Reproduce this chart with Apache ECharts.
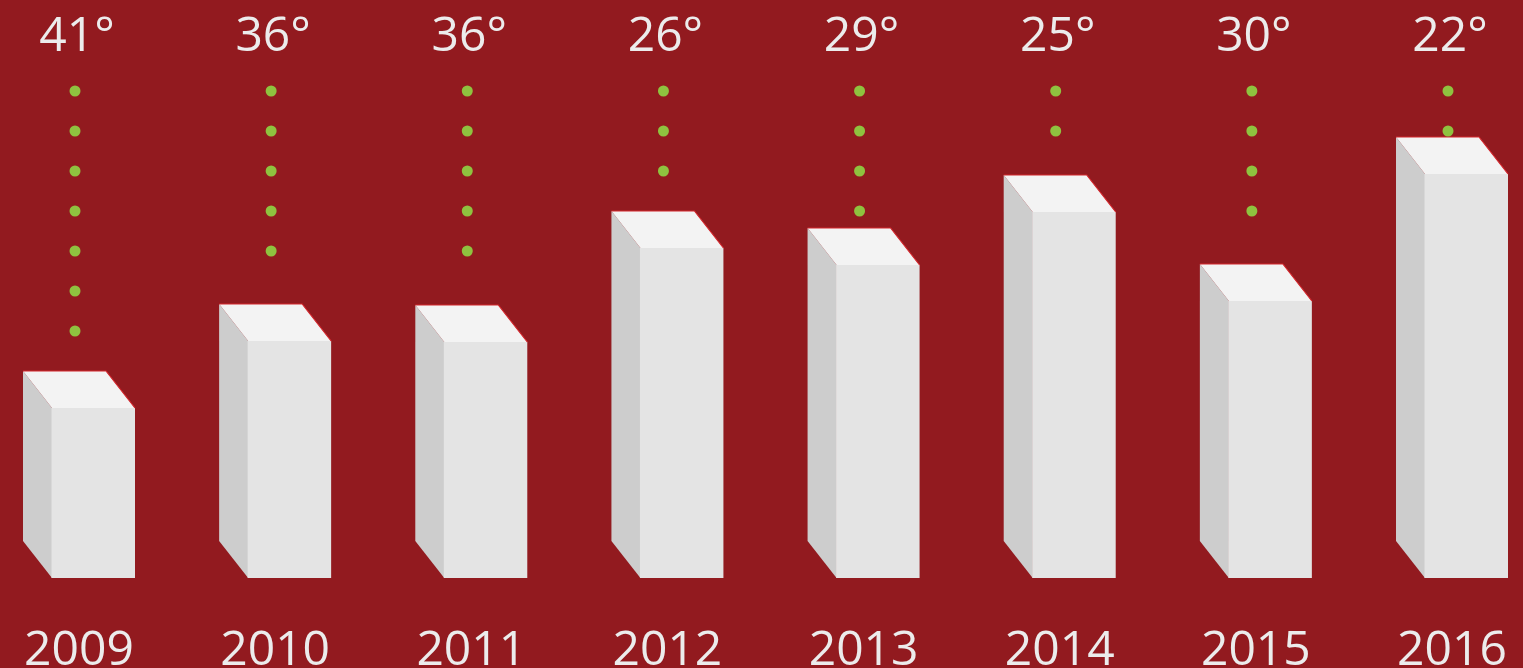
<!DOCTYPE html>
<html>
<head>
<meta charset="utf-8">
<script src="https://cdn.jsdelivr.net/npm/echarts@6/dist/echarts.min.js"></script>
<style>
html,body{margin:0;padding:0;background:#921a1f;}
#chart{width:1523px;height:668px;}
</style>
</head>
<body>
<div id="chart"></div>
<script>
// Data
var years = ['2009', '2010', '2011', '2012', '2013', '2014', '2015', '2016'];
var degrees = [41, 36, 36, 26, 29, 25, 30, 22];
var barHeights = [170, 237, 236, 330, 313, 366, 277, 404];
var dotCounts = [7, 5, 5, 3, 4, 2, 4, 2];

var chart = echarts.init(document.getElementById('chart'), null, {renderer: 'canvas'});

var FRONT = '#e4e4e4', SIDE = '#cdcdcd', TOP = '#f3f3f3', EDGE = '#d4262c', DOT = '#8fc23f';
var TEXT = '#ececec';

function renderBar(params, api) {
  var i = api.value(0);
  var base = api.coord([i, 0]);
  var top = api.coord([i, api.value(1)]);
  var c = base[0];
  var yb = base[1], yt = top[1];
  var dx = 29, dy = 37, fw = 83;
  var xBack = c - 56, xFront = xBack + dx, xRight = xFront + fw;
  var children = [];
  children.push({type: 'polygon', shape: {points: [[xBack, yt - dy], [xFront, yt], [xFront, yb], [xBack, yb - dy]]}, style: {fill: SIDE}});
  children.push({type: 'rect', shape: {x: xFront - 0.5, y: yt, width: fw + 0.5, height: yb - yt}, style: {fill: FRONT}});
  children.push({type: 'polygon', shape: {points: [[xBack, yt - dy], [xRight - dx, yt - dy], [xRight, yt], [xFront, yt]]}, style: {fill: TOP}});
  children.push({type: 'polyline', shape: {points: [[xBack, yt - dy], [xRight - dx, yt - dy], [xRight, yt]]}, style: {stroke: EDGE, lineWidth: 1.2, fill: null}});
  var n = api.value(2);
  for (var k = 0; k < n; k++) {
    children.push({type: 'circle', shape: {cx: c - 4, cy: 91 + 40 * k, r: 5.5}, style: {fill: DOT}});
  }
  children.push({type: 'text', style: {text: api.value(3) + '°', x: c - 2, y: 37, align: 'center', verticalAlign: 'middle', fill: TEXT, font: '48px "Open Sans"'}});
  return {type: 'group', children: children};
}

var seriesData = years.map(function (y, i) {
  return [i, barHeights[i], dotCounts[i], degrees[i]];
});

chart.setOption({
  backgroundColor: '#921a1f',
  animation: false,
  grid: {left: 79, right: 71, top: 0, bottom: 90, containLabel: false, outerBoundsMode: 'none'},
  xAxis: {
    type: 'category',
    data: years,
    boundaryGap: false,
    axisLine: {show: false},
    axisTick: {show: false},
    axisLabel: {color: TEXT, fontSize: 48, fontFamily: 'Open Sans', margin: 97, verticalAlign: 'bottom', interval: 0}
  },
  yAxis: {
    type: 'value', min: 0, max: 578,
    show: false
  },
  series: [{
    type: 'custom',
    renderItem: renderBar,
    data: seriesData,
    encode: {x: 0, y: 1},
    clip: false
  }]
});
</script>
</body>
</html>
